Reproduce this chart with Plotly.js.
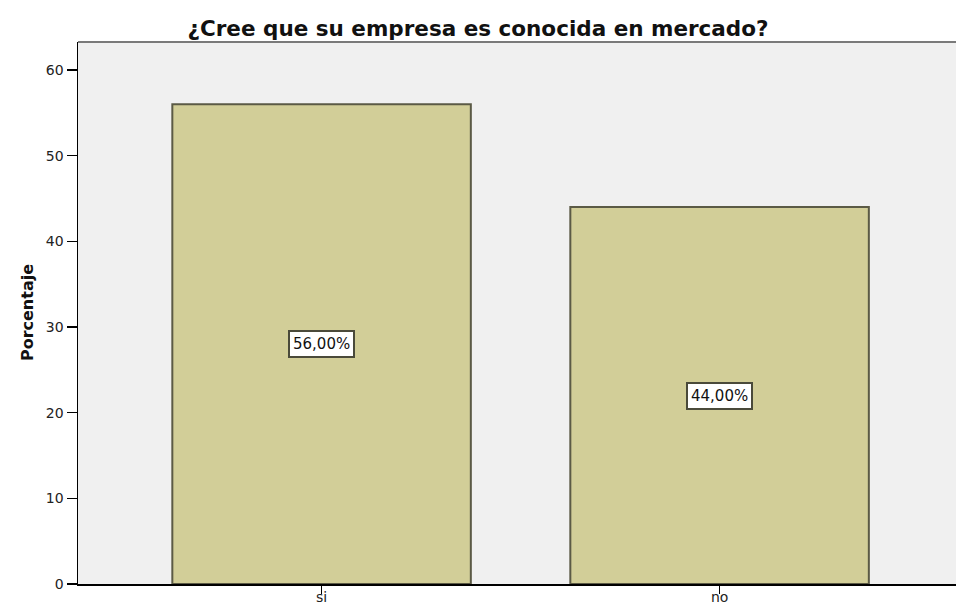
<!DOCTYPE html>
<html>
<head>
<meta charset="utf-8">
<script src="https://cdn.plot.ly/plotly-3.0.1.min.js"></script>
<style>html,body{margin:0;padding:0;background:#fff;}#chart{width:956px;height:608px;}</style>
</head>
<body>
<div id="chart"></div>
<script>
const categories = ["si", "no"];
const percentages = [56, 44];
const labels = ["56,00%", "44,00%"];
const yTicks = [0, 10, 20, 30, 40, 50, 60];

const FONT = "DejaVu Sans, Verdana, sans-serif";

const trace = {
  type: "bar",
  x: categories,
  y: percentages,
  marker: {color: "#d2ce98", line: {color: "#5b5a45", width: 2}},
  hoverinfo: "none"
};

const annotations = categories.map((c, i) => ({
  x: c, y: percentages[i] / 2, xref: "x", yref: "y",
  text: labels[i], showarrow: false,
  font: {family: FONT, size: 15, color: "#111"},
  bgcolor: "#ffffff", bordercolor: "#4a4a3a", borderwidth: 2, borderpad: 3
}));

// category labels under the x axis (kept inside the picture)
categories.forEach(c => annotations.push({
  x: c, xref: "x", yref: "paper", y: -(607 - 584) / 542,
  xanchor: "center", yanchor: "bottom",
  text: c, showarrow: false,
  font: {family: FONT, size: 14, color: "#222"}
}));

annotations.push({
  xref: "paper", yref: "paper", x: -0.058, y: 0.5,
  xanchor: "center", yanchor: "middle", textangle: -90,
  text: "<b>Porcentaje</b>", showarrow: false,
  font: {family: FONT, size: 16, color: "#111"}
});

const layout = {
  width: 956, height: 608,
  margin: {l: 78, r: 0, t: 42, b: 24},
  paper_bgcolor: "#ffffff",
  plot_bgcolor: "#f0f0f0",
  showlegend: false,
  bargap: 0.25,
  title: {
    text: "<b>¿Cree que su empresa es conocida en mercado?</b>",
    font: {family: FONT, size: 21.5, color: "#111"},
    x: 0.5, xref: "container", xanchor: "center",
    y: 1 - 28 / 608, yref: "container", yanchor: "middle"
  },
  xaxis: {
    type: "category",
    range: [-0.612, 1.594],
    showline: true, linecolor: "#000", linewidth: 1.5,
    ticks: "outside", ticklen: 8, tickwidth: 1.5, tickcolor: "#000",
    showticklabels: false,
    showgrid: false, zeroline: false
  },
  yaxis: {
    range: [0, 63.27],
    tickvals: yTicks,
    showline: true, linecolor: "#000", linewidth: 1.5,
    ticks: "outside", ticklen: 10, tickwidth: 1.5, tickcolor: "#000",
    showgrid: false, zeroline: false,
    tickfont: {family: FONT, size: 14, color: "#222"}
  },
  shapes: [{
    type: "line", xref: "paper", yref: "paper",
    x0: 0, x1: 1, y0: 1, y1: 1,
    line: {color: "#7a7a7a", width: 2}
  }],
  annotations: annotations
};

Plotly.newPlot("chart", [trace], layout, {displayModeBar: false, staticPlot: true});
</script>
</body>
</html>
